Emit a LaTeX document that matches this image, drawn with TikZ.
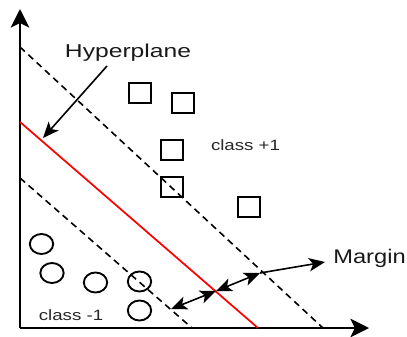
\documentclass[tikz,border=0pt]{standalone}
\usepackage{fontspec}
\setmainfont{Liberation Sans}
\usetikzlibrary{arrows.meta,shapes.geometric}
\tikzset{
  axis/.style={line width=1.6pt, -{Stealth[length=14pt, width=14pt, inset=3.5pt]}},
  bound/.style={line width=1.2pt, dash pattern=on 5pt off 3.5pt},
  hyper/.style={line width=1.3pt, draw=red},
  tip/.style={Stealth[length=12pt, width=10pt, inset=3pt]},
  pointer/.style={line width=1.2pt, -{Stealth[length=12pt, width=10pt, inset=3pt]}},
  gap/.style={line width=1.2pt, {Stealth[length=12pt, width=10pt, inset=3pt]}-{Stealth[length=12pt, width=10pt, inset=3pt]}},
  posclass/.style={draw, line width=1.4pt, minimum width=17pt, minimum height=15pt, inner sep=0pt},
  negclass/.style={draw, line width=1.4pt, ellipse, minimum width=17.5pt, minimum height=15pt, inner sep=0pt},
  biglabel/.style={inner sep=0pt, text=black!90, font=\fontsize{14}{16}\selectfont},
  smalllabel/.style={inner sep=0pt, text=black!85, font=\fontsize{11.2}{13}\selectfont},
}
\begin{document}
\begin{tikzpicture}[x=0.75pt, y=-0.75pt]
  \useasboundingbox (0,0) rectangle (407,336);

  % axes
  \coordinate (O) at (20,328);
  \coordinate (Ytop) at (20,9);
  \coordinate (Xend) at (369,328);
  \draw[axis] (O) -- (Ytop);
  \draw[axis] (O) -- (Xend);

  % margin boundaries and separating hyperplane
  \coordinate (U1) at (20,47);   \coordinate (U2) at (323,328);
  \coordinate (H1) at (20,122);  \coordinate (H2) at (258,328);
  \coordinate (L1) at (20,178);  \coordinate (L2) at (192,328);
  \draw[bound] (U1) -- (U2);
  \draw[bound] (L1) -- (L2);
  \draw[hyper] (H1) -- (H2);

  % class +1 samples
  \node[posclass] (p1) at (140,93) {};
  \node[posclass] (p2) at (183,103) {};
  \node[posclass] (p3) at (172,150) {};
  \node[posclass] (p4) at (172,187) {};
  \node[posclass] (p5) at (249,207) {};

  % class -1 samples
  \node[negclass] (n1) at (41.5,244) {};
  \node[negclass] (n2) at (52,273) {};
  \node[negclass] (n3) at (95.5,282.5) {};
  \node[negclass] (n4) at (139.5,281.5) {};
  \node[negclass] (n5) at (139.5,310.5) {};

  % labels
  \node[biglabel, anchor=base] (hyp) at (128,57) {\scalebox{1.32}[1]{Hyperplane}};
  \node[smalllabel, anchor=base] (cpos) at (245.5,150) {\scalebox{1.25}[1]{class +1}};
  \node[smalllabel, anchor=base] (cneg) at (71,320) {\scalebox{1.25}[1]{class -1}};
  \node[biglabel, anchor=base east, font=\fontsize{14.8}{17}\selectfont] (mar) at (406,263) {\scalebox{1.2}[1]{Margin}};

  % pointer to the hyperplane
  \coordinate (hypTail) at (107,66);
  \coordinate (hypTip) at (43,138);
  \draw[pointer] (hypTail) -- (hypTip);

  % margin widths
  \coordinate (m0) at (171,309);
  \coordinate (m1) at (216,291);
  \coordinate (m2) at (260,273);
  \coordinate (m3) at (325,262);
  \draw[gap] (m0) -- (m1);
  \draw[gap] (m1) -- (m2);
  \draw[pointer] (m2) -- (m3);
\end{tikzpicture}
\end{document}
